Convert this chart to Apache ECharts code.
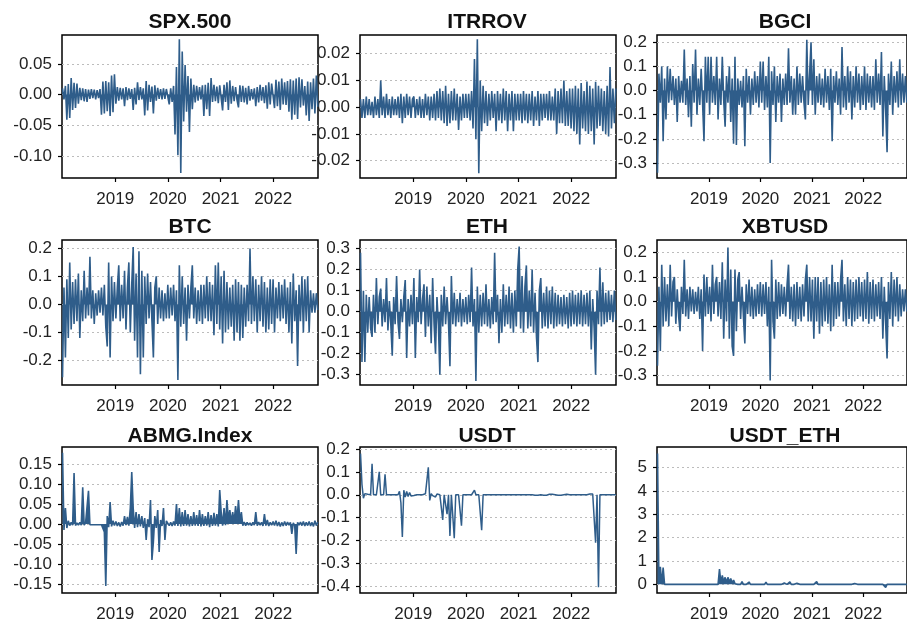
<!DOCTYPE html>
<html><head><meta charset="utf-8">
<script src="https://cdn.jsdelivr.net/npm/echarts@6/dist/echarts.min.js"></script>
<style>html,body{margin:0;padding:0;background:#fff}#c{width:907px;height:624px}</style>
</head><body><div id="c"></div>
<script>
// x axis tick labels (years) and sampling of the series (one value every 10 days from 2018-01-01)
const xTickYears = [2019, 2020, 2021, 2022];
const startYear = 2018, stepDays = 10;

const spx = [
// 2018
0.010,-0.008,0.014,-0.041,0.017,-0.038,
0.027,-0.025,0.019,-0.022,0.018,-0.015,
0.011,-0.009,0.010,-0.011,0.009,-0.012,
0.008,-0.007,0.009,-0.006,0.008,-0.008,
0.007,-0.006,0.009,-0.033,0.021,-0.031,
0.022,-0.027,0.020,-0.035,0.031,-0.029,
0.033,
// 2019
-0.015,0.012,-0.010,0.011,-0.008,0.010,
-0.019,0.012,-0.009,0.010,-0.007,0.009,
-0.025,0.011,-0.016,0.020,-0.009,0.012,
-0.008,0.010,-0.034,0.022,-0.026,0.016,
-0.012,0.013,-0.031,0.015,-0.010,0.011,
-0.007,0.009,-0.008,0.010,-0.007,0.009,
// 2020
0.011,-0.016,0.010,-0.012,0.014,-0.065,
0.045,-0.099,0.090,-0.128,0.070,-0.044,
0.048,-0.028,0.030,-0.061,0.026,-0.024,
0.016,-0.013,0.014,-0.010,0.012,-0.008,
0.015,-0.035,0.016,-0.024,0.019,-0.035,
0.027,-0.012,0.016,-0.011,0.013,-0.014,
0.015,
// 2021
0.014,-0.026,0.016,-0.012,0.020,-0.025,
0.023,-0.015,0.014,-0.011,0.012,-0.009,
-0.021,0.015,-0.012,0.014,-0.013,0.011,
-0.016,0.014,-0.010,0.009,-0.008,0.010,
-0.019,0.012,-0.013,0.016,-0.010,0.012,
-0.014,0.015,-0.023,0.020,-0.016,0.018,
// 2022
0.019,-0.022,0.024,-0.019,0.021,-0.025,
0.026,-0.016,0.020,-0.017,0.022,-0.028,
0.025,-0.041,0.023,-0.033,0.026,-0.040,
0.028,-0.021,0.025,-0.018,0.014,-0.034,
0.021,-0.043,0.020,-0.024,0.026,-0.031,
0.031,-0.020
];

const itrrov = [
// 2018
0.003,-0.004,0.003,-0.004,0.004,-0.003,
0.003,-0.003,0.002,-0.004,0.004,-0.003,
0.003,-0.004,0.010,-0.003,0.004,-0.004,
0.005,-0.003,0.003,-0.004,0.004,-0.003,
0.003,-0.003,0.004,-0.004,0.005,-0.006,
0.004,-0.004,0.005,-0.003,0.004,-0.004,
0.003,
// 2019
0.004,-0.004,0.003,-0.003,0.004,-0.004,
0.003,-0.004,0.005,-0.003,0.004,-0.005,
0.004,-0.004,0.005,-0.005,0.006,-0.004,
0.007,-0.005,0.006,-0.006,0.008,-0.007,
0.005,-0.006,0.006,-0.005,0.007,-0.005,
0.005,-0.0085,0.004,-0.005,0.005,-0.004,
// 2020
0.005,-0.004,0.005,-0.005,0.006,-0.008,
0.018,-0.012,0.0254,-0.0247,0.010,-0.009,
0.008,-0.006,0.006,-0.007,0.005,-0.005,
0.006,-0.004,0.005,-0.009,0.006,-0.005,
0.005,-0.006,0.007,-0.005,0.006,-0.009,
0.005,-0.005,0.006,-0.009,0.005,-0.005,
0.005,
// 2021
-0.005,0.005,-0.006,0.006,-0.005,0.005,
-0.006,0.005,-0.005,0.006,-0.007,0.004,
-0.005,0.006,-0.007,0.005,-0.005,0.005,
-0.004,0.005,-0.005,0.006,-0.005,0.004,
-0.005,0.007,-0.010,0.006,-0.006,0.007,
-0.006,0.010,-0.007,0.006,-0.007,0.007,
// 2022
-0.008,0.007,-0.009,0.008,-0.010,0.007,
-0.014,0.009,-0.008,0.006,-0.009,0.0096,
-0.010,0.008,-0.009,0.007,-0.014,0.0095,
-0.008,0.008,-0.007,0.007,-0.009,0.006,
-0.010,0.008,-0.011,0.015,-0.008,0.007,
-0.006,0.007
];

const bgci = [
// 2018
-0.34,0.07,-0.05,0.10,-0.21,0.05,
-0.12,0.10,-0.05,0.09,-0.04,0.06,
-0.06,0.05,-0.13,0.06,-0.05,0.04,
-0.05,0.17,-0.06,0.05,-0.11,0.06,
-0.15,0.11,-0.05,0.17,-0.10,0.05,
-0.06,0.09,-0.05,-0.21,0.14,-0.05,
0.14,
// 2019
-0.10,0.14,-0.05,0.06,-0.06,0.14,
-0.12,0.05,-0.06,0.14,-0.04,-0.15,
0.06,-0.05,0.10,-0.13,0.05,-0.22,
0.14,-0.225,0.05,-0.06,0.04,-0.07,
0.06,-0.23,0.09,-0.05,0.06,-0.10,
0.05,-0.06,0.08,-0.05,0.06,-0.07,
// 2020
0.12,-0.05,0.12,-0.08,0.06,-0.07,
0.14,-0.30,0.08,-0.06,0.10,-0.13,
0.06,-0.05,0.07,-0.13,0.05,-0.06,
0.07,-0.06,0.175,-0.05,0.06,-0.10,
0.05,-0.10,0.10,-0.06,0.07,-0.05,
0.06,-0.05,-0.12,0.21,-0.06,0.07,
0.20,
// 2021
-0.06,0.13,-0.10,0.06,-0.05,0.07,
-0.06,0.05,-0.07,0.09,-0.05,0.06,
-0.08,0.09,-0.21,0.06,-0.05,0.08,
-0.06,0.05,-0.10,0.18,-0.07,0.06,
-0.08,0.10,-0.05,0.08,-0.12,0.06,
-0.07,0.10,-0.05,0.07,-0.08,0.06,
// 2022
-0.06,0.10,-0.08,0.07,-0.05,0.06,
-0.07,0.06,-0.08,0.13,-0.05,0.07,
-0.06,0.16,-0.19,0.06,-0.08,-0.255,
0.07,-0.06,0.12,-0.10,0.06,-0.05,
0.08,-0.07,0.13,-0.06,0.07,-0.05,
0.06,-0.05
];

const btc = [
// 2018
-0.26,0.06,-0.19,0.09,-0.12,0.15,
-0.09,0.08,-0.07,0.09,-0.06,0.11,
-0.12,0.05,-0.06,0.12,-0.05,0.06,
-0.04,0.17,-0.05,0.05,-0.07,0.04,
-0.04,0.05,-0.03,0.06,-0.04,0.07,
-0.08,-0.15,0.15,-0.19,0.10,-0.06,
0.08,
// 2019
-0.05,0.06,0.14,-0.06,0.07,-0.05,
0.12,-0.09,0.06,0.15,-0.10,0.07,
0.205,-0.13,0.11,-0.19,0.19,-0.25,
0.12,-0.19,0.10,-0.07,0.11,-0.05,
0.08,-0.06,-0.19,0.06,0.10,-0.07,
0.06,-0.05,0.05,-0.06,0.04,-0.05,
// 2020
0.07,-0.05,0.06,-0.04,0.07,-0.06,
0.05,-0.27,0.14,-0.08,0.10,-0.07,
0.06,-0.13,0.07,-0.05,0.06,0.14,
-0.05,0.06,-0.07,0.05,-0.06,0.07,
-0.07,0.07,-0.05,0.10,-0.06,0.08,
-0.06,0.07,-0.11,0.14,-0.07,0.15,
-0.09,
// 2021
0.10,-0.14,0.12,-0.10,0.08,-0.09,
0.06,-0.08,0.07,-0.13,0.09,-0.10,
0.08,-0.13,0.07,-0.12,0.06,-0.08,
0.07,-0.06,0.20,-0.07,0.10,-0.06,
0.09,-0.10,0.07,-0.06,0.10,-0.08,
0.08,-0.10,0.06,-0.09,0.09,-0.07,
// 2022
0.09,-0.10,0.06,-0.05,0.08,-0.06,
0.07,-0.05,0.09,-0.07,0.06,-0.10,
0.08,-0.14,0.11,-0.06,0.05,-0.22,
0.07,-0.06,0.10,-0.10,0.09,-0.06,
0.10,-0.10,0.05,-0.03,0.04,-0.03,
0.04,-0.02
];

const eth = [
// 2018
0.28,-0.24,0.10,-0.24,0.08,-0.10,
0.07,-0.08,-0.12,0.08,-0.10,0.16,
-0.06,0.07,0.11,-0.07,0.06,-0.05,
0.16,-0.09,0.05,-0.06,-0.21,0.07,
-0.06,0.17,-0.05,-0.13,0.06,-0.05,
0.07,0.15,-0.22,0.06,-0.07,0.08,
-0.06,
// 2019
0.16,-0.22,0.07,-0.05,0.20,-0.06,
0.06,0.13,-0.12,0.12,-0.07,0.08,
-0.15,0.16,-0.06,-0.20,0.07,-0.06,
-0.30,0.08,-0.07,0.12,-0.06,0.07,
-0.05,-0.26,0.17,-0.06,0.09,-0.07,
0.06,-0.05,0.09,-0.07,0.06,-0.05,
// 2020
0.07,-0.06,0.08,-0.05,0.21,-0.07,
0.06,-0.33,0.12,-0.10,0.08,-0.07,
0.09,-0.06,0.13,-0.07,0.06,-0.08,
0.07,-0.06,0.28,-0.05,0.08,-0.15,
0.06,-0.10,0.13,-0.07,0.08,-0.06,
0.12,-0.08,0.09,-0.10,0.10,-0.07,
0.20,
// 2021
0.31,-0.08,0.17,-0.10,0.12,0.22,
-0.08,0.10,-0.07,0.20,-0.10,0.09,
-0.12,-0.24,0.10,0.16,-0.08,0.09,
-0.07,0.12,-0.08,0.10,-0.06,0.12,
-0.08,0.09,-0.07,0.08,-0.06,0.07,
-0.07,0.08,-0.06,0.07,-0.08,0.09,
// 2022
-0.07,0.10,-0.06,0.08,-0.07,0.09,
-0.06,0.10,-0.07,0.08,-0.06,0.09,
-0.07,0.10,-0.18,0.06,-0.08,-0.30,
0.10,-0.06,0.21,-0.07,0.14,-0.06,
0.09,-0.05,0.10,-0.04,0.08,-0.05,
0.10,-0.04
];

const xbtusd = [
// 2018
-0.26,0.06,-0.20,0.15,-0.10,0.10,
-0.08,0.07,-0.10,0.15,-0.06,0.08,
0.10,-0.09,0.05,-0.06,-0.12,0.06,
-0.05,0.17,-0.06,0.05,-0.07,0.06,
-0.04,0.05,-0.05,0.04,-0.04,0.06,
-0.07,0.05,-0.20,0.11,-0.06,0.10,
-0.05,
// 2019
0.06,-0.08,0.15,-0.05,0.07,0.10,
-0.06,0.08,-0.07,0.16,-0.15,0.09,
-0.08,0.22,-0.15,0.13,-0.18,-0.22,
0.13,-0.12,0.09,0.12,-0.07,0.06,
-0.06,-0.17,0.07,-0.05,0.09,-0.06,
0.06,-0.07,0.05,-0.06,0.07,-0.05,
// 2020
0.08,-0.06,0.07,-0.05,0.08,-0.10,
0.06,-0.32,0.17,-0.08,-0.15,0.09,
-0.07,0.08,-0.06,0.07,-0.05,0.06,
-0.06,0.07,0.15,-0.07,0.06,-0.08,
0.07,-0.10,0.08,-0.07,0.06,-0.08,
0.07,-0.06,0.09,0.15,-0.08,0.10,
-0.08,
// 2021
0.09,-0.15,0.10,-0.08,0.10,-0.13,
0.08,-0.10,0.09,-0.08,0.10,-0.09,
0.07,-0.12,0.15,-0.10,0.08,-0.07,
0.08,-0.06,0.09,0.17,-0.08,0.07,
-0.10,0.10,-0.07,0.09,-0.10,0.08,
-0.08,0.09,-0.07,0.10,-0.06,0.08,
// 2022
-0.08,0.09,-0.07,0.12,-0.09,0.08,
-0.07,0.09,-0.08,0.07,-0.06,0.08,
-0.07,0.10,-0.15,0.06,-0.09,-0.23,
0.08,-0.07,0.12,-0.10,0.09,-0.06,
0.10,-0.08,0.07,-0.06,0.05,-0.04,
0.05,-0.04
];

const abmg = [
// 2018
0.178,-0.015,0.040,-0.010,0.008,-0.004,
0.004,-0.003,0.1275,-0.004,0.003,-0.003,
0.004,-0.003,0.092,-0.003,0.003,-0.002,
0.083,-0.002,0.003,-0.002,0.002,-0.002,
0.003,-0.002,0.002,-0.002,0.003,-0.020,
-0.155,0.020,-0.008,0.055,-0.006,0.008,
-0.004,
// 2019
0.006,-0.005,0.004,-0.006,0.005,-0.004,
0.020,-0.003,0.018,-0.004,0.040,0.130,
0.040,-0.010,0.030,-0.008,0.025,-0.006,
0.020,-0.010,0.015,-0.040,0.012,-0.008,
0.060,-0.090,-0.045,0.020,-0.010,0.035,
-0.070,0.010,-0.005,0.040,-0.040,0.008,
// 2020
0.005,-0.004,0.004,-0.005,0.006,-0.004,
0.050,-0.005,0.040,-0.006,0.030,-0.005,
0.035,-0.004,0.025,-0.006,0.020,-0.005,
0.030,-0.004,0.022,-0.005,0.035,-0.006,
0.025,-0.005,0.020,-0.004,0.030,-0.008,
0.022,-0.005,0.028,-0.004,0.025,-0.006,
0.085,
// 2021
0.030,-0.004,0.040,-0.003,0.060,0.010,
0.035,0.005,0.030,0.004,0.045,0.010,
0.060,0.005,0.030,-0.004,0.005,-0.004,
0.004,-0.003,0.003,-0.004,0.004,-0.003,
0.030,-0.004,0.005,-0.003,0.004,-0.005,
0.025,-0.004,0.010,-0.005,0.004,-0.003,
// 2022
0.006,-0.004,0.008,-0.005,0.005,-0.006,
0.004,-0.005,0.006,-0.004,0.005,-0.003,
0.004,-0.025,0.003,-0.004,-0.075,0.004,
-0.003,0.005,-0.004,0.006,-0.005,0.004,
-0.004,0.006,-0.005,0.004,-0.006,0.008,
-0.004,0.005
];

const usdt = [
// 2018
0.180,0.045,-0.015,0.005,-0.003,0.002,
0,0,0.135,0,0,0,
0,0.100,0,0,0,0.090,
0,0,0,0,0,0,
0,0,0,0.015,-0.035,-0.185,
0.020,-0.010,0.015,-0.008,0.010,-0.005,
0.003,
// 2019
-0.003,0,0,0,0,0,
0,0,0.004,0,0.120,-0.025,
0.005,-0.004,0.003,-0.010,0.003,0,
0,0,-0.110,0,0,-0.085,
0,-0.180,0,0,-0.190,0,
0,0,0,-0.135,0,0,
// 2020
0,0,0,0,0,0,
0.020,0,0,0,0,-0.155,
0,0,0,0,0,0,
0,0,0,0,0,0,
0,0,0,0,0,0,
0,0,0,0,0,0,
0,
// 2021
0,0,0,0,0,0,
0,0,0,0,0.002,-0.002,
0.002,-0.002,0.002,0,0.002,-0.002,
0.002,-0.002,0,0.002,-0.002,0.002,
-0.002,0,0.002,-0.002,0.002,-0.002,
0.002,0,-0.002,0.002,0,0,
// 2022
0,0,0,0,0,0,
0,0,0,0,0,0,
0,0.003,-0.003,0.003,0,-0.210,
0,-0.405,0,0,0,0,
0,0,0,0,0,0,
0,0
];

const usdtEth = [
// 2018
5.6,0.02,0.75,0.01,0.72,0,
0,0,0,0,0,0,
0,0,0,0,0,0,
0,0,0,0,0,0,
0,0,0,0,0,0,
0,0,0,0,0,0,
0,
// 2019
0,0,0,0,0,0,
0,0.65,0.05,0.38,0.10,0.30,
0.08,0.30,0.10,0.25,0.05,0.18,
0.03,0.10,0,0.08,0,0.12,
0,0.06,0,0,0.10,0,
0,0,0,0,0,0,
// 2020
0,0,0,0,0.09,0,
0.08,0,0.07,0,0,0,
0,0,0,0,0,0.06,
0,0,0,0.11,0,0.07,
0,0,0.05,0,0,0,
0,0,0,0,0,0,
0,
// 2021
0,0,0,0.12,0,0.04,
0,0.04,0,0.04,0,0.04,
0,0,0,0,0,0,
0,0,0,0,0,0.05,
0,0,0,0,0,0,
0.04,0,0,0.05,0,0,
// 2022
0,0,0,0,0,0,
0,0,0,0,0,0,
0,-0.05,0,0,-0.13,0,
0,0,0,0,0,0,
0,0,0,0,0,0,
0,0
];

// y tick labels per panel
const spxTicks = [-0.10, -0.05, 0, 0.05];
const itrrovTicks = [-0.02, -0.01, 0, 0.01, 0.02];
const bgciTicks = [-0.3, -0.2, -0.1, 0, 0.1, 0.2];
const btcTicks = [-0.2, -0.1, 0, 0.1, 0.2];
const ethTicks = [-0.3, -0.2, -0.1, 0, 0.1, 0.2, 0.3];
const xbtTicks = [-0.3, -0.2, -0.1, 0, 0.1, 0.2];
const abmgTicks = [-0.15, -0.10, -0.05, 0, 0.05, 0.10, 0.15];
const usdtTicks = [-0.4, -0.3, -0.2, -0.1, 0, 0.1, 0.2];
const usdtEthTicks = [0, 1, 2, 3, 4, 5];

const names = ['SPX.500', 'ITRROV', 'BGCI', 'BTC', 'ETH', 'XBTUSD', 'ABMG.Index', 'USDT', 'USDT_ETH'];
const seriesValues = [spx, itrrov, bgci, btc, eth, xbtusd, abmg, usdt, usdtEth];
const yTicks = [spxTicks, itrrovTicks, bgciTicks, btcTicks, ethTicks, xbtTicks, abmgTicks, usdtTicks, usdtEthTicks];
const yDecimals = [2, 2, 1, 1, 1, 1, 2, 1, 0];
const yMin = [-0.136, -0.0265, -0.362, -0.288, -0.349, -0.338, -0.1725, -0.43, -0.37];
const yMax = [0.097, 0.027, 0.23, 0.23, 0.341, 0.25, 0.1925, 0.209, 5.88];
const filled = [true, true, true, true, true, true, true, false, true];

// layout
const colLeft = [62, 360, 657], rowTop = [35, 240, 447], rowH = [143, 145, 146], W = 256;
const titleX = [190, 487, 785], titleY = [22.5, 227.5, 436];
const FONT = '"Liberation Sans", Arial, sans-serif';
const LINE = '#2F5D8A';

const grids = [], xAxes = [], yAxes = [], series = [], graphics = [];
names.forEach((nm, k) => {
  const r = Math.floor(k / 3), c = k % 3;
  grids.push({left: colLeft[c], top: rowTop[r], width: W, height: rowH[r], show: true,
    borderColor: '#000', borderWidth: 1.5, backgroundColor: 'transparent', containLabel: false});
  xAxes.push({type: 'value', gridIndex: k, min: 2017.99, max: 2022.85,
    axisLine: {show: false, onZero: false},
    axisTick: {show: true, customValues: xTickYears, length: 4, lineStyle: {color: '#000', width: 1.2}},
    axisLabel: {customValues: xTickYears, formatter: v => String(Math.round(v)), fontSize: 17, color: '#222', margin: 13, fontFamily: FONT},
    splitLine: {show: false}});
  yAxes.push({type: 'value', gridIndex: k, min: yMin[k], max: yMax[k],
    axisLine: {show: false},
    axisTick: {show: true, customValues: yTicks[k], length: 4, lineStyle: {color: '#000', width: 1.2}},
    axisLabel: {customValues: yTicks[k], formatter: v => Number(v).toFixed(yDecimals[k]), fontSize: 17, color: '#222', margin: 10, fontFamily: FONT},
    splitLine: {show: true, lineStyle: {color: '#bcbcbc', type: [2, 3], width: 1}}});
  const vals = seriesValues[k];
  const s = {type: 'line', xAxisIndex: k, yAxisIndex: k,
    data: vals.map((v, i) => [startYear + i * stepDays / 365.25, v]),
    symbol: 'none', showSymbol: false, clip: true, silent: true,
    lineStyle: {color: LINE, width: filled[k] ? 1.6 : 1.5}, z: 3};
  if (filled[k]) s.areaStyle = {color: LINE, opacity: 1, origin: 0};
  series.push(s);
  graphics.push({type: 'text', x: titleX[c], y: titleY[r], silent: true,
    style: {text: nm, align: 'center', verticalAlign: 'middle', fontSize: 21, fontWeight: 'bold', fontFamily: FONT, fill: '#111'}});
});

const chart = echarts.init(document.getElementById('c'), null, {renderer: 'canvas'});
chart.setOption({
  animation: false,
  backgroundColor: '#fff',
  grid: grids, xAxis: xAxes, yAxis: yAxes, series: series,
  graphic: graphics
});
</script>
</body></html>
